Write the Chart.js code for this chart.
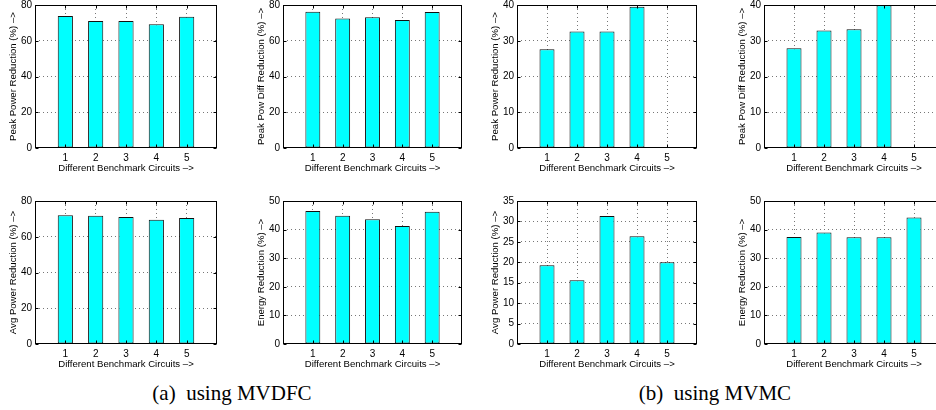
<!DOCTYPE html>
<html><head><meta charset="utf-8">
<script src="https://cdn.jsdelivr.net/npm/chart.js@4"></script>
<style>
html,body{margin:0;padding:0;width:936px;height:410px;overflow:hidden;background:#fff;position:relative}
.p{position:absolute}
.cap{position:absolute;font-family:"Liberation Serif","Times New Roman",serif;font-size:21px;line-height:21px;color:#000;white-space:pre;transform:translateX(-50%)}
</style></head><body>
<div class="cap" style="left:232px;top:383px">(a)  using MVDFC</div>
<div class="cap" style="left:715px;top:383px">(b)  using MVMC</div>
<script>
// ---- data ----
const categories = [1, 2, 3, 4, 5];
const peakPowerMVDFC   = [73.8, 71.0, 71.0, 69.3, 73.4];
const peakPowDiffMVDFC = [76.2, 72.5, 73.1, 71.6, 76.1];
const avgPowerMVDFC    = [72.0, 71.8, 71.0, 69.5, 70.5];
const energyMVDFC      = [46.5, 44.8, 43.6, 41.3, 46.2];
const peakPowerMVMC    = [27.6, 32.6, 32.6, 39.5, 0];
const peakPowDiffMVMC  = [27.9, 32.9, 33.2, 39.9, 0];
const avgPowerMVMC     = [19.3, 15.6, 31.3, 26.4, 20.0];
const energyMVMC       = [37.4, 39.0, 37.3, 37.3, 44.2];
const xTitle = 'Different Benchmark Circuits \u2013>';
const yTitles = [
  'Peak Power Reduction (%) \u2013>', 'Peak Pow Diff Reduction (%) \u2013>',
  'Peak Power Reduction (%) \u2013>', 'Peak Pow Diff Reduction (%) \u2013>',
  'Avg Power Reduction (%) \u2013>', 'Energy Reduction (%) \u2013>',
  'Avg Power Reduction (%) \u2013>', 'Energy Reduction (%) \u2013>'
];
const seriesList = [peakPowerMVDFC, peakPowDiffMVDFC, peakPowerMVMC, peakPowDiffMVMC,
                    avgPowerMVDFC, energyMVDFC, avgPowerMVMC, energyMVMC];
const yMaxes = [80, 80, 40, 40, 80, 50, 35, 50];
const ySteps = [20, 20, 10, 10, 20, 10, 5, 10];

// ---- layout ----
const plotLefts = [35, 283, 517, 764];
const plotWidths = [182, 179, 180, 180];
const plotTops = [5, 201];
const plotH = 143;
const Y_W = 31, X_H = 30, PAD_T = 10, PAD_R = 6;
const FONT = '"Liberation Sans", Arial, Helvetica, sans-serif';

const boxPlugin = {
  id: 'box',
  afterDatasetsDraw(chart) {
    const {ctx, chartArea: a, scales} = chart;
    ctx.save();
    ctx.strokeStyle = '#000';
    ctx.lineWidth = 1;
    const l = Math.round(a.left) + 0.5, t = Math.round(a.top) + 0.5;
    const r = Math.round(a.right) - 0.5, b = Math.round(a.bottom) - 0.5;
    ctx.strokeRect(l, t, r - l, b - t);
    ctx.beginPath();
    scales.y.ticks.forEach(tk => {
      const y = Math.round(scales.y.getPixelForValue(tk.value)) + 0.5;
      ctx.moveTo(l, y); ctx.lineTo(l + 3, y);
      ctx.moveTo(r, y); ctx.lineTo(r - 3, y);
    });
    categories.forEach(c => {
      const x = Math.round(scales.x.getPixelForValue(c)) + 0.5;
      ctx.moveTo(x, b); ctx.lineTo(x, b - 3);
      ctx.moveTo(x, t); ctx.lineTo(x, t + 3);
    });
    ctx.stroke();
    ctx.restore();
  }
};

seriesList.forEach((vals, i) => {
  const col = i % 4, row = Math.floor(i / 4);
  const div = document.createElement('div');
  div.className = 'p';
  const w = Y_W + plotWidths[col] + PAD_R;
  const h = PAD_T + plotH + X_H;
  div.style.left = (plotLefts[col] - Y_W) + 'px';
  div.style.top = (plotTops[row] - PAD_T) + 'px';
  div.style.width = w + 'px';
  div.style.height = h + 'px';
  const cv = document.createElement('canvas');
  cv.width = w; cv.height = h;
  cv.style.width = w + 'px'; cv.style.height = h + 'px';
  div.appendChild(cv);
  document.body.appendChild(div);
  const yMax = yMaxes[i];
  new Chart(cv, {
    type: 'bar',
    data: {
      datasets: [{
        data: categories.map((c, k) => ({x: c, y: vals[k]})),
        backgroundColor: '#00FFFF',
        borderColor: '#111',
        borderWidth: 1,
        borderSkipped: false,
        barPercentage: 0.5,
        categoryPercentage: 1
      }]
    },
    options: {
      responsive: false,
      animation: false,
      events: [],
      devicePixelRatio: 1,
      layout: {padding: {top: PAD_T, right: PAD_R, bottom: 0, left: 0}},
      plugins: {legend: {display: false}, tooltip: {enabled: false}},
      scales: {
        x: {
          type: 'linear', min: 0, max: 6, offset: false,
          afterFit: s => { s.height = X_H; },
          ticks: {
            stepSize: 1, autoSkip: false, maxRotation: 0, padding: 4,
            color: '#000', font: {family: FONT, size: 10},
            callback: v => (v >= 1 && v <= 5) ? String(v) : ''
          },
          grid: {
            drawTicks: false, lineWidth: 1, offset: false,
            color: ctx => (ctx.tick && ctx.tick.value > 0 && ctx.tick.value < 6) ? '#777' : 'rgba(0,0,0,0)'
          },
          border: {display: false, dash: [1, 3]},
          title: {display: true, text: xTitle, color: '#000', font: {family: FONT, size: 9.6}, padding: {top: 4, bottom: 4}}
        },
        y: {
          min: 0, max: yMax,
          afterFit: s => { s.width = Y_W; },
          ticks: {stepSize: ySteps[i], padding: 3, color: '#000', font: {family: FONT, size: 10}},
          grid: {
            drawTicks: false, lineWidth: 1,
            color: ctx => (ctx.tick && ctx.tick.value > 0 && ctx.tick.value < yMax) ? '#777' : 'rgba(0,0,0,0)'
          },
          border: {display: false, dash: [1, 3]},
          title: {display: true, text: yTitles[i], color: '#000', font: {family: FONT, size: 9.6}, padding: {top: 4, bottom: 4}}
        }
      }
    },
    plugins: [boxPlugin]
  });
});
</script>
</body></html>
